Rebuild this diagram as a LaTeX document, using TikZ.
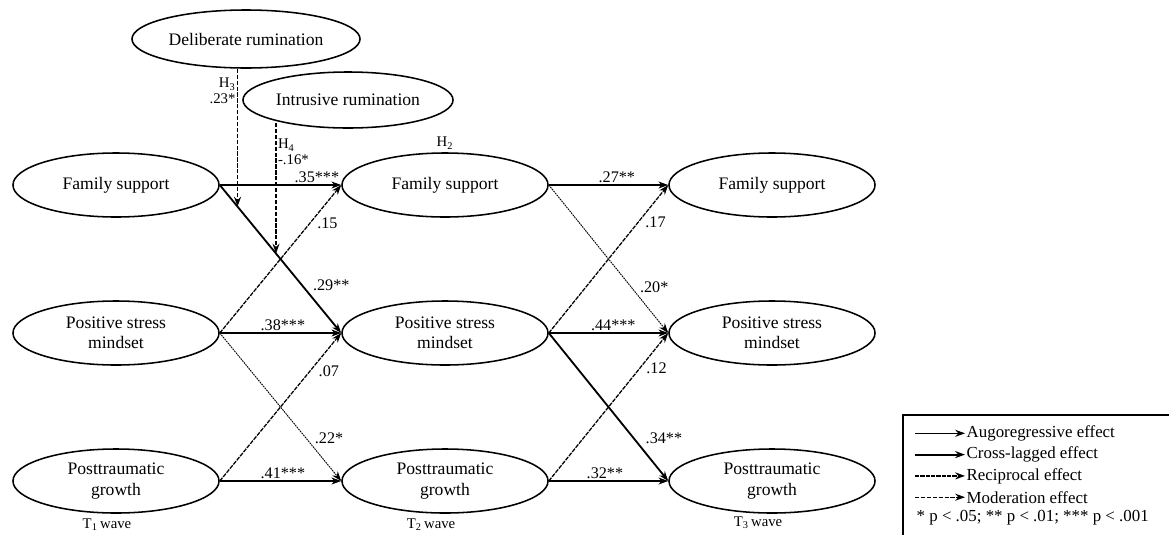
\documentclass[tikz,border=0pt]{standalone}
\usepackage{fontspec}
\setmainfont{Liberation Serif}
\usetikzlibrary{arrows.meta,shapes.geometric}
\tikzset{
  latent/.style={ellipse,draw,line width=1.1pt,minimum width=5.15cm,minimum height=1.6cm,
    inner sep=0pt,align=center,font=\fontsize{12.5}{14.5}\selectfont},
  autoreg/.style={-{Stealth[length=7pt,width=5pt]},line width=0.8pt},
  crosslag/.style={autoreg,line width=1.3pt},
  recip/.style={autoreg,line width=0.9pt,dash pattern=on 3pt off 0.8pt},
  weakpath/.style={autoreg,line width=0.65pt,dash pattern=on 1.2pt off 0.6pt},
  moder/.style={autoreg,line width=0.9pt,dash pattern=on 3pt off 1.2pt},
  coef/.style={font=\fontsize{11.5}{13}\selectfont,inner sep=1pt},
  hyp/.style={font=\fontsize{10.5}{11}\selectfont,inner sep=1pt},
  wave/.style={font=\fontsize{10.5}{12}\selectfont,inner sep=0pt},
  legtext/.style={anchor=west,inner sep=1pt,font=\fontsize{12}{14}\selectfont},
}
\begin{document}
\begin{tikzpicture}[x=0.025cm,y=-0.025cm]
      \clip (0,0) rectangle (1169,534);
      \foreach \t/\x/\wx/\wy in {1/116/107/525,2/445/431/525,3/772/758/523}
      {
        \node [latent] (fs\t) at (\x,185) {Family support};
        \node [latent] (psm\t) at (\x,333) {Positive stress\\mindset};
        \node [latent] (ptg\t) at (\x,481) {Posttraumatic\\growth};
        \node [wave] (w\t) at (\wx,\wy) {T\textsubscript{\t}\,wave};
      }
      \node [latent,minimum width=5.7cm,minimum height=1.45cm] (dr) at (246,39) {Deliberate rumination};
      \node [latent,minimum width=5.25cm,minimum height=1.4cm] (ir) at (348,100) {Intrusive rumination};
      \node [hyp,anchor=south,inner sep=2pt] (h2) at (fs2.north) {H\textsubscript{2}};

      \draw [autoreg] (fs1.east) -- (fs2.west) node [coef,pos=0.8,above] {.35***};
      \draw [autoreg] (psm1.east) -- (psm2.west) node [coef,pos=0.52,above] {.38***};
      \draw [autoreg] (ptg1.east) -- (ptg2.west) node [coef,pos=0.52,above] {.41***};
      \draw [autoreg] (fs2.east) -- (fs3.west) node [coef,pos=0.57,above] {.27**};
      \draw [autoreg] (psm2.east) -- (psm3.west) node [coef,pos=0.54,above] {.44***};
      \draw [autoreg] (ptg2.east) -- (ptg3.west) node [coef,pos=0.47,above] {.32**};

      \draw [crosslag] (fs1.east) -- (psm2.west) node [coef,pos=0.68,right=6pt] {.29**}
        coordinate [pos=0.146] (m3) coordinate [pos=0.463] (m4);
      \draw [recip] (psm1.east) -- (fs2.west) node [coef,pos=0.74,right=4pt] {.15};
      \draw [weakpath] (psm1.east) -- (ptg2.west) node [coef,pos=0.71,right=5pt] {.22*};
      \draw [recip] (ptg1.east) -- (psm2.west) node [coef,pos=0.74,right=5pt] {.07};
      \draw [recip] (psm2.east) -- (fs3.west) node [coef,pos=0.745,right=4pt] {.17};
      \draw [weakpath] (fs2.east) -- (psm3.west) node [coef,pos=0.69,right=5pt] {.20*};
      \draw [recip] (ptg2.east) -- (psm3.west) node [coef,pos=0.765,right=3pt] {.12};
      \draw [crosslag] (psm2.east) -- (ptg3.west) node [coef,pos=0.71,right=7pt] {.34**};

      \draw [moder] (dr.south -| m3) -- (m3)
        node [hyp,pos=0.16,left,align=right] {H\textsubscript{3}\\.23*};
      \draw [moder] (ir.200 -| m4) -- (m4)
        node [hyp,pos=0.22,right,align=left] {H\textsubscript{4}\\-.16*};

      \draw [line width=1.1pt] (903,415) rectangle (1190,560);
      \foreach \s/\txt [count=\i] in {autoreg/Augoregressive effect,crosslag/Cross-lagged effect,
        recip/Reciprocal effect,moder/Moderation effect}
      {
        \coordinate (ls\i) at (915,412+21.3*\i);
        \node [legtext] (leg\i) at (965,412+21.3*\i) {\txt};
        \draw [\s] (ls\i) -- (leg\i.west);
      }
      \node [legtext] (sig) at (915,518) {* p < .05; ** p < .01; *** p < .001};
    \end{tikzpicture}
\end{document}
